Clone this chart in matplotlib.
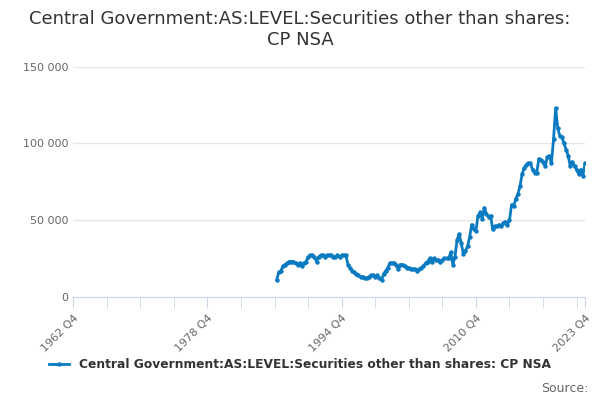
import numpy as np
import matplotlib.pyplot as plt

start_year = 1987
values = [
    11, 16, 17, 20, 21, 22, 23, 23, 23, 22, 21, 22, 20, 22, 23,
    26, 27, 27, 26, 23, 26, 27, 27, 26, 27, 27, 27, 26, 26, 27,
    26, 27, 27, 27, 21, 19, 17, 16, 15, 14, 13, 13, 12, 12, 13, 14,
    14, 13, 14, 12, 11, 15, 17, 19, 22, 22, 22, 21, 18, 21, 21, 20,
    19, 19, 18, 18, 18, 17, 18, 19, 20, 22, 23, 25, 23, 25, 24, 24,
    23, 24, 25, 25, 25, 29, 21, 26, 37, 41, 35, 28, 30, 33, 39, 47,
    44, 43, 53, 55, 51, 58, 54, 52, 53, 44, 46, 46, 47, 46, 48, 49,
    47, 50, 60, 59, 64, 67, 72, 80, 84, 86, 87, 87, 83, 81, 81, 90,
    89, 88, 85, 91, 92, 87, 103, 123, 110, 105, 104, 100, 96, 92, 85, 88, 85,
    83, 80, 83, 79, 87,
]
values = np.array(values) * 1000
quarters = start_year + np.arange(len(values)) * 0.25

tick_years = [1962.75, 1978.75, 1994.75, 2010.75, 2023.75]
tick_labels = ['1962 Q4', '1978 Q4', '1994 Q4', '2010 Q4', '2023 Q4']

fig = plt.figure(figsize=(6, 4), dpi=100)
ax = fig.add_axes([0.122, 0.258, 0.853, 0.575])
color = '#0a7bc1'
ax.plot(quarters, values, color=color, lw=2, marker='o', ms=2.2,
        label='Central Government:AS:LEVEL:Securities other than shares: CP NSA')

ax.set_xlim(1962.75, 2023.75)
ax.set_ylim(0, 150000)
ax.set_yticks([0, 50000, 100000, 150000])
ax.set_yticklabels(['0', '50 000', '100 000', '150 000'])
ax.set_xticks(tick_years)
ax.set_xticklabels(tick_labels, rotation=45, ha='right', rotation_mode='anchor')
ax.set_xticks(np.arange(1962.75, 2023.8, 4), minor=True)
ax.grid(axis='y', color='#e6e6e6', lw=1)
ax.set_axisbelow(True)
for s in ['top', 'right', 'left']:
    ax.spines[s].set_visible(False)
ax.spines['bottom'].set_color('#ccd6eb')
ax.tick_params(axis='y', length=0, labelsize=8, colors='#666666')
ax.tick_params(axis='x', which='both', length=8, color='#ccd6eb', labelsize=8, labelcolor='#666666')

fig.suptitle('Central Government:AS:LEVEL:Securities other than shares:\nCP NSA',
             y=0.975, fontsize=13, color='#333333')
fig.legend(loc='lower center', bbox_to_anchor=(0.5, 0.045), frameon=False,
           prop={'size': 8.8, 'weight': 'bold'}, labelcolor='#333333', handlelength=1.6)
fig.text(0.98, 0.02, 'Source:', ha='right', fontsize=9, color='#666666')

fig.savefig('out.png')
